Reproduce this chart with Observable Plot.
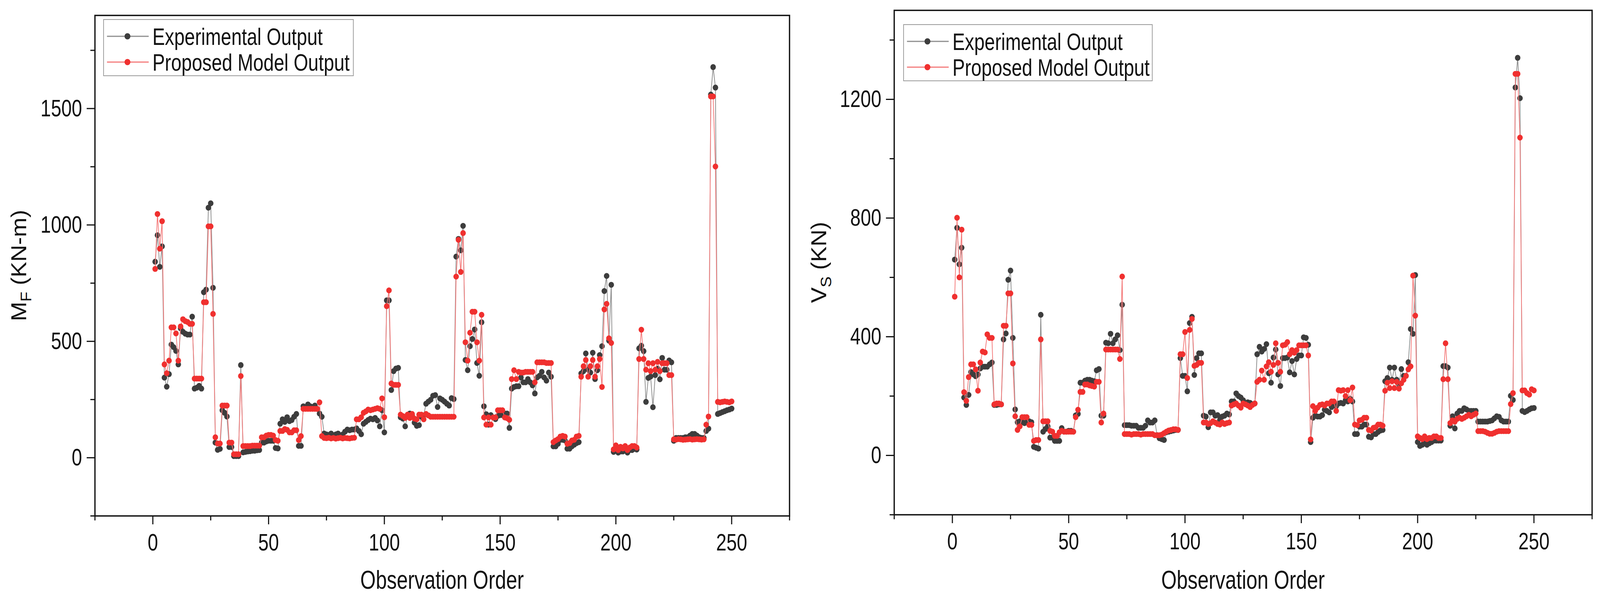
<!DOCTYPE html>
<html>
<head>
<meta charset="utf-8">
<script src="https://cdn.jsdelivr.net/npm/d3@7"></script>
<script src="https://cdn.jsdelivr.net/npm/@observablehq/plot@0.6"></script>
<style>
  html, body { margin: 0; padding: 0; width: 100%; height: 100%; overflow: hidden; background: #fff; }
  #charts { display: flex; width: 4356px; height: 1524px; transform-origin: 0 0; }
  .panel { position: relative; flex: 0 0 2178px; width: 2178px; height: 1524px; }
  .panel > svg { display: block; }
  .legend {
    position: absolute;
    box-sizing: border-box;
    border: 2px solid #9a9a9a;
    background: #fff;
    font-family: "Liberation Sans", Arial, sans-serif;
    font-size: 62px;
    color: #111;
    white-space: nowrap;
  }
  .legend .row { position: absolute; left: 0; height: 60px; display: flex; align-items: center; }
  .legend .row svg { display: block; margin-left: 8px; margin-right: 10px; flex: none; }
  .legend .row span { display: inline-block; transform: scaleX(0.82); transform-origin: left center; }
</style>
</head>
<body>
<div id="charts"></div>
<script>
  // observation order (x categories)
  const obs = d3.range(1, 251)

  // M_F (KN-m) experimental vs model
  const mfExp = [
    842, 956, 820, 908, 344, 305, 359, 486, 475, 459,
    401, 556, 541, 533, 529, 529, 606, 297, 301, 309,
    297, 711, 722, 1074, 1093, 730, 65, 34, 38, 204,
    193, 177, 46, 46, 7, 7, 7, 398, 23, 25,
    27, 28, 30, 30, 32, 33, 65, 65, 70, 73,
    73, 73, 42, 40, 146, 165, 154, 174, 157, 162,
    176, 188, 51, 51, 221, 218, 229, 221, 218, 224,
    210, 190, 176, 104, 100, 98, 104, 96, 100, 104,
    95, 100, 112, 121, 118, 121, 121, 126, 115, 101,
    146, 154, 162, 168, 165, 171, 160, 135, 204, 109,
    676, 676, 291, 372, 383, 386, 174, 168, 135, 182,
    190, 182, 151, 137, 140, 176, 182, 232, 241, 249,
    266, 269, 218, 255, 249, 241, 232, 224, 256, 252,
    864, 940, 891, 996, 420, 376, 479, 510, 551, 407,
    352, 582, 221, 187, 142, 183, 173, 166, 180, 183,
    183, 190, 190, 128, 297, 304, 307, 307, 345, 324,
    324, 338, 324, 311, 276, 345, 352, 369, 345, 331,
    366, 348, 49, 49, 60, 77, 77, 74, 39, 39,
    49, 56, 63, 67, 362, 372, 448, 379, 366, 451,
    338, 376, 441, 479, 716, 781, 503, 743, 25, 33,
    22, 27, 27, 33, 22, 33, 33, 38, 35, 470,
    481, 458, 240, 343, 349, 217, 355, 383, 337, 429,
    378, 378, 418, 410, 73, 85, 85, 85, 85, 88,
    88, 95, 102, 102, 95, 88, 85, 85, 115, 125,
    1560, 1678, 1590, 188, 192, 196, 200, 204, 207, 211
  ]
  const mfMod = [
    811, 1047, 898, 1016, 401, 363, 417, 560, 560, 534,
    417, 564, 595, 587, 583, 575, 575, 340, 340, 340,
    340, 668, 668, 994, 994, 618, 88, 61, 61, 224,
    224, 224, 65, 65, 15, 15, 15, 351, 50, 50,
    50, 50, 52, 52, 52, 52, 88, 88, 95, 98,
    98, 95, 76, 73, 115, 115, 123, 120, 109, 109,
    118, 118, 76, 93, 210, 210, 210, 210, 210, 210,
    210, 238, 93, 85, 84, 86, 83, 85, 82, 84,
    86, 83, 85, 84, 83, 85, 86, 165, 165, 174,
    193, 199, 207, 204, 207, 210, 213, 210, 255, 174,
    651, 719, 319, 313, 313, 313, 185, 179, 171, 185,
    171, 188, 168, 165, 185, 185, 165, 188, 182, 176,
    176, 176, 176, 176, 176, 176, 176, 176, 176, 176,
    778, 936, 798, 965, 496, 417, 537, 627, 627, 496,
    417, 614, 173, 142, 173, 142, 173, 173, 204, 204,
    204, 173, 170, 163, 338, 376, 338, 369, 366, 366,
    369, 369, 369, 369, 324, 410, 410, 410, 410, 407,
    407, 407, 67, 74, 80, 91, 94, 91, 60, 63,
    74, 77, 91, 94, 348, 393, 420, 348, 393, 420,
    348, 393, 424, 304, 637, 661, 513, 493, 36, 53,
    33, 47, 40, 50, 33, 44, 50, 50, 44, 424,
    550, 424, 378, 406, 372, 406, 378, 412, 372, 406,
    406, 406, 355, 355, 79, 78, 80, 79, 77, 78,
    79, 80, 78, 79, 80, 79, 78, 79, 142, 177,
    1552, 1552, 1251, 240, 238, 240, 242, 240, 238, 242
  ]

  // V_S (KN) experimental vs model
  const vsExp = [
    660, 767, 644, 700, 195, 170, 204, 281, 273, 267,
    273, 293, 299, 299, 299, 307, 313, 170, 170, 172,
    172, 391, 411, 592, 623, 396, 155, 112, 115, 112,
    109, 112, 115, 112, 29, 26, 23, 474, 80, 89,
    98, 60, 60, 49, 49, 49, 92, 80, 80, 83,
    83, 80, 135, 140, 245, 245, 252, 255, 255, 252,
    250, 287, 291, 134, 134, 380, 378, 410, 378, 391,
    405, 355, 508, 102, 102, 102, 100, 100, 100, 93,
    93, 93, 100, 118, 111, 111, 118, 68, 58, 55,
    52, 78, 80, 82, 84, 86, 86, 328, 268, 268,
    216, 446, 467, 271, 328, 344, 344, 134, 131, 95,
    145, 145, 134, 136, 120, 131, 134, 141, 138, 182,
    182, 209, 200, 195, 186, 177, 179, 177, 172, 175,
    341, 366, 350, 359, 375, 277, 245, 330, 357, 273,
    234, 328, 328, 330, 280, 318, 273, 325, 337, 337,
    398, 396, 373, 45, 127, 134, 131, 131, 136, 154,
    150, 145, 163, 168, 166, 175, 177, 175, 186, 182,
    191, 182, 72, 72, 97, 97, 104, 104, 63, 61,
    72, 72, 79, 84, 86, 250, 261, 296, 255, 296,
    255, 239, 291, 268, 268, 314, 426, 410, 608, 45,
    32, 36, 45, 36, 41, 45, 50, 50, 50, 50,
    301, 301, 296, 100, 132, 91, 141, 150, 150, 159,
    155, 150, 150, 150, 150, 114, 114, 114, 114, 114,
    116, 118, 125, 132, 130, 118, 114, 114, 114, 201,
    187, 1240, 1340, 1204, 150, 146, 150, 155, 159, 160
  ]
  const vsMod = [
    535, 801, 600, 761, 213, 184, 264, 307, 307, 290,
    218, 313, 350, 347, 408, 396, 396, 172, 175, 175,
    172, 437, 437, 546, 546, 310, 132, 86, 98, 129,
    129, 129, 103, 103, 49, 52, 52, 391, 115, 115,
    115, 83, 80, 66, 66, 78, 83, 80, 80, 80,
    80, 80, 129, 154, 214, 214, 239, 239, 236, 234,
    232, 248, 248, 111, 141, 357, 357, 357, 357, 357,
    357, 325, 603, 72, 72, 72, 70, 72, 72, 72,
    70, 72, 72, 72, 72, 72, 68, 68, 68, 70,
    75, 80, 84, 86, 88, 88, 86, 341, 341, 416,
    261, 423, 460, 302, 305, 312, 312, 111, 111, 106,
    109, 115, 111, 106, 104, 111, 106, 109, 111, 168,
    172, 175, 168, 161, 175, 172, 168, 163, 170, 175,
    248, 255, 286, 255, 300, 314, 282, 305, 378, 312,
    282, 371, 373, 382, 341, 355, 346, 355, 371, 371,
    371, 371, 337, 54, 166, 150, 161, 170, 172, 168,
    175, 175, 182, 182, 150, 220, 218, 220, 200, 220,
    186, 229, 104, 102, 118, 120, 127, 127, 86, 84,
    93, 95, 104, 104, 100, 218, 245, 227, 250, 227,
    248, 225, 243, 255, 268, 290, 300, 606, 471, 64,
    59, 55, 64, 55, 59, 59, 64, 64, 59, 59,
    257, 378, 257, 109, 118, 114, 123, 127, 123, 127,
    132, 137, 132, 137, 141, 82, 82, 82, 80, 76,
    73, 73, 76, 80, 82, 82, 82, 82, 82, 173,
    210, 1286, 1286, 1071, 219, 219, 210, 205, 223, 219
  ]

  // tick values
  const xMajor = [0, 50, 100, 150, 200, 250]
  const xMinor = [-25, 25, 75, 125, 175, 225, 275]
  const mfMajor = [0, 500, 1000, 1500]
  const mfMinor = [-250, 250, 750, 1250, 1750]
  const vsMajor = [0, 400, 800, 1200]
  const vsMinor = [-200, 200, 600, 1000, 1400]

  const seriesNames = ["Experimental Output", "Proposed Model Output"]
  const expDot = "#3d3d3d", expLine = "#8e8e8e"
  const modDot = "#f0302f", modLine = "#f47a7a"
  const sans = '"Liberation Sans", Arial, sans-serif'
  const squeeze = 0.82   // the reference uses a narrow face

  function makeChart(cfg) {
    const expData = obs.map((o, i) => ({obs: o, v: cfg.exp[i]}))
    const modData = obs.map((o, i) => ({obs: o, v: cfg.mod[i]}))

    const svg = Plot.plot({
      width: 2178,
      height: 1524,
      marginTop: cfg.m[0],
      marginRight: cfg.m[1],
      marginBottom: cfg.m[2],
      marginLeft: cfg.m[3],
      style: {fontFamily: sans, fontSize: "62px", color: "#111", background: "#fff", overflow: "visible", maxWidth: "none"},
      x: {domain: [-25, 275]},
      y: {domain: cfg.yDomain},
      marks: [
        Plot.axisX(xMinor, {tickSize: 12, strokeWidth: 3, tickFormat: () => "", label: null}),
        Plot.axisX(xMajor, {tickSize: 22, tickPadding: 22, strokeWidth: 3, fontSize: 62, tickFormat: d => String(d), label: null}),
        Plot.axisY(cfg.yMinor, {tickSize: 12, strokeWidth: 3, tickFormat: () => "", label: null}),
        Plot.axisY(cfg.yMajor, {tickSize: 22, tickPadding: 13, strokeWidth: 3, fontSize: 62, tickFormat: d => String(d), label: null}),
        Plot.line(expData, {x: "obs", y: "v", stroke: expLine, strokeWidth: 2}),
        Plot.dot(expData, {x: "obs", y: "v", r: 7.5, fill: expDot}),
        Plot.line(modData, {x: "obs", y: "v", stroke: modLine, strokeWidth: 2}),
        Plot.dot(modData, {x: "obs", y: "v", r: 7.5, fill: modDot}),
        Plot.frame({stroke: "#111", strokeWidth: 3.5})
      ]
    })

    const s = d3.select(svg)
    const left = cfg.m[3], right = 2178 - cfg.m[1]
    const top = cfg.m[0], bottom = 1524 - cfg.m[2]

    s.append("text")
      .attr("class", "narrow")
      .attr("x", (left + right) / 2)
      .attr("y", 1508)
      .attr("text-anchor", "middle")
      .attr("font-size", 66)
      .attr("fill", "#111")
      .text("Observation Order")

    const yl = s.append("text")
      .attr("transform", `translate(50,${(top + bottom) / 2}) rotate(-90)`)
      .attr("y", 21)
      .attr("text-anchor", "middle")
      .attr("font-size", 60)
      .attr("fill", "#111")
    yl.append("tspan").text(cfg.yMain)
    yl.append("tspan").attr("dy", 14).attr("font-size", 42).text(cfg.ySub)
    yl.append("tspan").attr("dy", -14).text("\u00a0" + cfg.yUnit)

    const panel = document.createElement("div")
    panel.className = "panel"
    panel.appendChild(svg)

    // legend box
    const lg = document.createElement("div")
    lg.className = "legend"
    lg.style.left = cfg.legend[0] + "px"
    lg.style.top = cfg.legend[1] + "px"
    lg.style.width = cfg.legend[2] + "px"
    lg.style.height = "146px"
    const swatches = [[expLine, expDot], [modLine, modDot]]
    seriesNames.forEach((name, i) => {
      const row = document.createElement("div")
      row.className = "row"
      row.style.top = (12 + i * 66) + "px"
      row.innerHTML = `<svg width="114" height="30"><line x1="0" x2="114" y1="15" y2="15" stroke="${swatches[i][0]}" stroke-width="3"/><circle cx="56" cy="15" r="8" fill="${swatches[i][1]}"/></svg><span>${name}</span>`
      lg.appendChild(row)
    })
    panel.appendChild(lg)
    return panel
  }

  // condense horizontal texts once they are laid out
  function condense(svg) {
    const texts = [...svg.querySelectorAll('g[aria-label$="tick label"] text'), ...svg.querySelectorAll("text.narrow")]
    texts.forEach(t => {
      const len = t.getComputedTextLength()
      if (len > 0) {
        t.setAttribute("textLength", (len * squeeze).toFixed(1))
        t.setAttribute("lengthAdjust", "spacingAndGlyphs")
      }
    })
  }

  const root = document.getElementById("charts")
  const p1 = makeChart({
    exp: mfExp, mod: mfMod,
    yDomain: [-250, 1900], yMajor: mfMajor, yMinor: mfMinor,
    m: [39, 29, 203, 258],
    yMain: "M", ySub: "F", yUnit: "(KN-m)",
    legend: [281, 49, 682]
  })
  const p2 = makeChart({
    exp: vsExp, mod: vsMod,
    yDomain: [-200, 1500], yMajor: vsMajor, yMinor: vsMinor,
    m: [26, 22, 206, 256],
    yMain: "V", ySub: "S", yUnit: "(KN)",
    legend: [281, 62, 679]
  })
  root.appendChild(p1)
  root.appendChild(p2)
  condense(p1.querySelector("svg"))
  condense(p2.querySelector("svg"))

  // fit the 4356x1524 layout into whatever viewport the page gets
  function fit() {
    const sx = window.innerWidth / 4356, sy = window.innerHeight / 1524
    root.style.transform = (Math.abs(sx - 1) < 0.002 && Math.abs(sy - 1) < 0.002) ? "" : `scale(${sx}, ${sy})`
  }
  fit()
  window.addEventListener("resize", fit)
</script>
</body>
</html>
